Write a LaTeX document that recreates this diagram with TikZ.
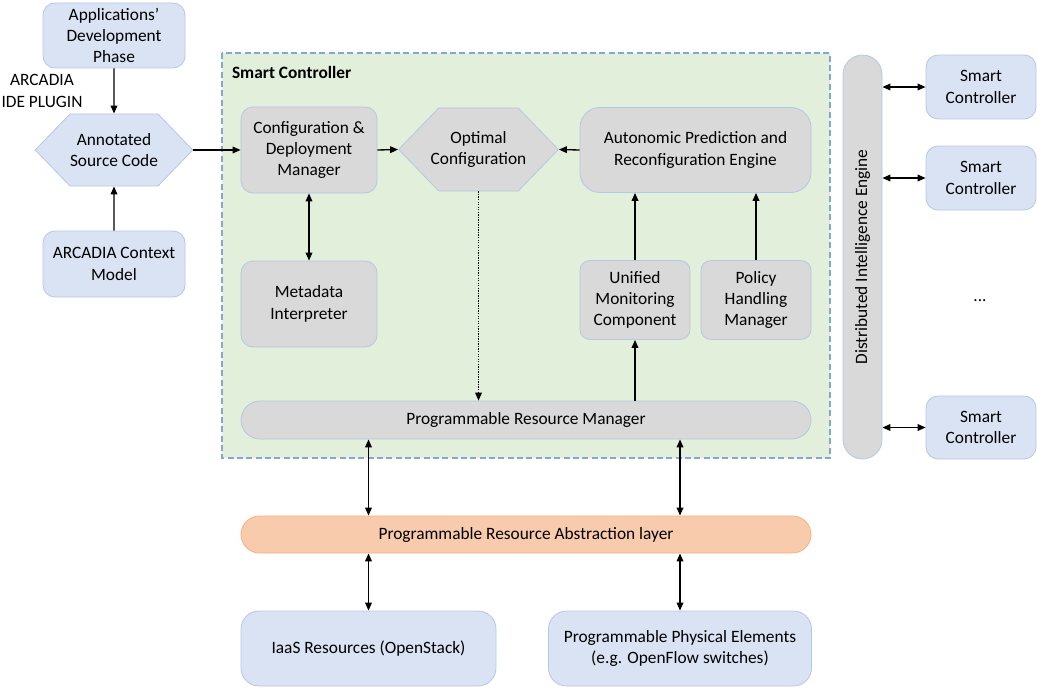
\documentclass[tikz,border=0pt]{standalone}
\usepackage{fontspec}
\setmainfont{Carlito}
\usetikzlibrary{shapes.symbols, arrows.meta, positioning, calc}

\definecolor{boxblue}{HTML}{DAE3F3}
\definecolor{boxgray}{HTML}{D9D9D9}
\definecolor{boxline}{HTML}{B4C7E7}
\definecolor{scgreen}{HTML}{E2EFDA}
\definecolor{scline}{HTML}{7FA8D2}
\definecolor{layerorange}{HTML}{F8CBAD}
\definecolor{layerline}{HTML}{F4B183}

\tikzset{
	box/.style={draw=boxline, line width=0.6pt, align=center, inner sep=2pt, rounded corners=9pt},
	bluebox/.style={box, fill=boxblue},
	graybox/.style={box, fill=boxgray},
	hexbox/.style={shape=signal, signal to=west and east, signal pointer angle=92, draw=boxline, line width=0.6pt, align=center, inner sep=0pt},
	arr/.style={-{Triangle[length=6pt,width=5pt]}, line width=1pt},
	dbl/.style={{Triangle[length=6pt,width=5pt]}-{Triangle[length=6pt,width=5pt]}, line width=1pt},
}

\begin{document}
\fontsize{13}{16}\selectfont
\begin{tikzpicture}[x=0.75pt, y=-0.75pt]
		\useasboundingbox (0,0) rectangle (1037,688);
		
		% Smart Controller area
		\draw[fill=scgreen, draw=scline, line width=0.9pt, dash pattern=on 4.5pt off 2.5pt] (222,53) rectangle (830,458);
		\node[anchor=west, font=\bfseries] (sclabel) at (226,72) {Smart Controller};
		
		% Development side
		\node[bluebox, minimum width=106.5pt, minimum height=48.75pt] (app) at (114,35.5) {Applications'\\Development\\Phase};
		\node[align=center, inner sep=0pt] (plugin) at (42,91) {ARCADIA\\IDE PLUGIN};
		\node[hexbox, fill=boxblue, minimum width=117pt, minimum height=54pt] (src) at (114,150) {Annotated\\Source Code};
		\node[bluebox, minimum width=106.5pt, minimum height=49.5pt] (ctx) at (114,264) {ARCADIA Context\\Model};
		
		% Controller components
		\node[graybox, minimum width=102pt, minimum height=64.5pt] (cdm) at (309,150) {Configuration \&\\Deployment\\Manager};
		\node[graybox, minimum width=102pt, minimum height=64.5pt] (meta) at (309,304) {Metadata\\Interpreter};
		\node[hexbox, fill=boxgray, inner xsep=-6pt, minimum width=117.75pt, minimum height=62.25pt] (opt) at (478.5,149.5) {Optimal\\Configuration};
		\node[graybox, rounded corners=15pt, minimum width=173.25pt, minimum height=63.75pt] (apre) at (695.5,150) {Autonomic Prediction and\\Reconfiguration Engine};
		\node[graybox, rounded corners=7.5pt, minimum width=82.5pt, minimum height=59.25pt] (umc) at (635,300) {Unified\\Monitoring\\Component};
		\node[graybox, rounded corners=7.5pt, minimum width=82.5pt, minimum height=59.25pt] (phm) at (756,300) {Policy\\Handling\\Manager};
		\node[graybox, rounded corners=14.25pt, minimum width=427.5pt, minimum height=28.5pt] (prm) at (526,420) {Programmable Resource Manager};
		
		% Resources
		\node[box, fill=layerorange, draw=layerline, rounded corners=13.9pt, minimum width=427.5pt, minimum height=27.75pt] (pral) at (526,534.5) {Programmable Resource Abstraction layer};
		\node[bluebox, rounded corners=13.5pt, minimum width=191.25pt, minimum height=56.25pt] (iaas) at (368.5,648.5) {IaaS Resources (OpenStack)};
		\node[bluebox, rounded corners=13.5pt, minimum width=197.25pt, minimum height=56.25pt] (ppe) at (680,648.5) {Programmable Physical Elements\\(e.g. OpenFlow switches)};
		
		% Distributed side
		\node[graybox, rounded corners=14.6pt, minimum width=29.25pt, minimum height=303pt] (die) at (862.5,257) {\rotatebox{90}{Distributed Intelligence Engine}};
		\node[bluebox, minimum width=82.5pt, minimum height=48pt] (sc1) at (981,87) {Smart\\Controller};
		\node[bluebox, minimum width=82.5pt, minimum height=48pt] (sc2) at (981,178) {Smart\\Controller};
		\node[bluebox, minimum width=82.5pt, minimum height=47.25pt] (sc3) at (981,427.5) {Smart\\Controller};
		\node (dots) at (980,301) {...};
		
		% Connectors
		\draw[arr] (app) -- (src);
		\draw[arr] (ctx) -- (src);
		\draw[arr] (src.east) -- (cdm.west);
		\draw[dbl] (cdm) -- (meta);
		\draw[arr] (cdm.east) -- (opt.west);
		\draw[arr] (apre.west) -- (opt.east);
		\draw[arr] (umc.north) -- (umc.north |- apre.south);
		\draw[arr] (phm.north) -- (phm.north |- apre.south);
		\draw[arr] (prm.north -| umc.south) -- (umc.south);
		\draw[-{Triangle[length=6pt,width=5pt]}, line width=0.9pt, dash pattern=on 1pt off 0.9pt] (opt.south) -- (opt.south |- prm.north);
		\draw[dbl] (prm.south -| iaas.north) -- (pral.north -| iaas.north);
		\draw[dbl] (prm.south -| ppe.north) -- (pral.north -| ppe.north);
		\draw[dbl] (pral.south -| iaas.north) -- (iaas.north);
		\draw[dbl] (pral.south -| ppe.north) -- (ppe.north);
		\draw[dbl] (sc1.west -| die.east) -- (sc1.west);
		\draw[dbl] (sc2.west -| die.east) -- (sc2.west);
		\draw[dbl] (sc3.west -| die.east) -- (sc3.west);
	\end{tikzpicture}
\end{document}
